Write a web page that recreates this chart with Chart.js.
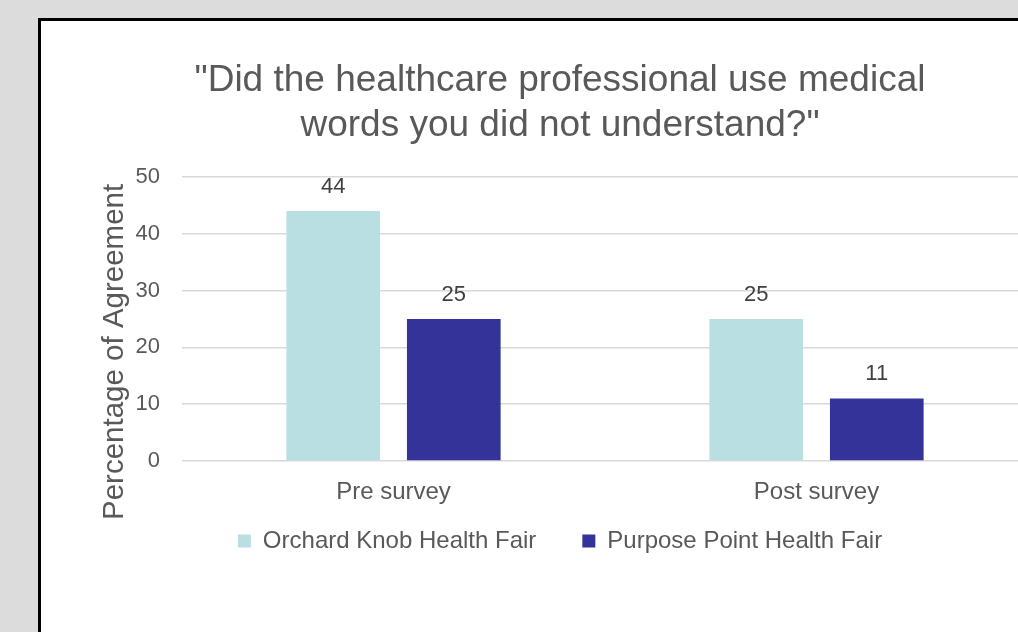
<!DOCTYPE html>
<html>
<head>
<meta charset="utf-8">
<script src="https://cdn.jsdelivr.net/npm/chart.js@4.4.1/dist/chart.umd.min.js"></script>
<style>
  html, body { margin:0; padding:0; background:#dcdcdc; overflow:hidden; }
  #box {
    position:absolute; left:38px; top:18px;
    width:1044px; height:614px;
    background:#fff;
    border-left:3px solid #000; border-top:3px solid #000;
  }
  #chart { display:block; }
</style>
</head>
<body>
<div id="box"><canvas id="chart" width="1038" height="611"></canvas></div>
<script>
// data
const categories = ["Pre survey", "Post survey"];
const seriesNames = ["Orchard Knob Health Fair", "Purpose Point Health Fair"];
const orchardKnob = [44, 25];
const purposePoint = [25, 11];
const yTicks = [0, 10, 20, 30, 40, 50];
const yTitle = "Percentage of Agreement";

const textGrey = "#595959";
const font = "'Liberation Sans', Arial, sans-serif";

// value labels above bars
const barLabels = {
  id: "barLabels",
  afterDatasetsDraw(chart) {
    const ctx = chart.ctx;
    ctx.save();
    ctx.font = `22px ${font}`;
    ctx.fillStyle = "#404040";
    ctx.textAlign = "center";
    ctx.textBaseline = "alphabetic";
    chart.data.datasets.forEach((ds, i) => {
      chart.getDatasetMeta(i).data.forEach((bar, j) => {
        ctx.fillText(String(ds.data[j]), bar.x, bar.y - 18);
      });
    });
    ctx.restore();
  }
};

// y title sits a bit lower than the plot middle in the original
const yTitlePlugin = {
  id: "yTitlePlugin",
  afterDraw(chart) {
    const ctx = chart.ctx;
    const a = chart.chartArea;
    ctx.save();
    ctx.translate(74, (a.top + a.bottom) / 2 + 33);
    ctx.rotate(-Math.PI / 2);
    ctx.font = `29.5px ${font}`;
    ctx.fillStyle = textGrey;
    ctx.textAlign = "center";
    ctx.textBaseline = "middle";
    ctx.fillText(yTitle, 0, 0);
    ctx.restore();
  }
};

// pull legend up closer to the category labels
const legendNudge = {
  id: "legendNudge",
  afterLayout(chart) {
    const l = chart.legend;
    l.top -= 23;
    l.bottom -= 23;
  }
};

new Chart(document.getElementById("chart"), {
  type: "bar",
  data: {
    labels: categories,
    datasets: [
      { label: seriesNames[0], data: orchardKnob, backgroundColor: "#b9dfe3" },
      { label: seriesNames[1], data: purposePoint, backgroundColor: "#333399" }
    ]
  },
  options: {
    responsive: false,
    animation: false,
    events: [],
    categoryPercentage: 0.57,
    barPercentage: 0.777,
    layout: { padding: { left: 0, right: 0, top: 0, bottom: 46 } },
    scales: {
      x: {
        grid: { display: false },
        border: { display: false },
        ticks: { color: textGrey, font: { family: font, size: 24 }, padding: 9 },
        afterFit: s => { s.height = 45; }
      },
      y: {
        min: 0, max: 50,
        afterBuildTicks: s => { s.ticks = yTicks.map(v => ({ value: v })); },
        grid: { color: "#d9d9d9", lineWidth: 1.5, drawTicks: false },
        border: { display: false },
        ticks: { color: textGrey, font: { family: font, size: 22 }, padding: 22 },
        afterFit: s => { s.width = 141; }
      },
      // empty right-hand space so the plot ends where the original does
      yRight: {
        position: "right",
        grid: { display: false },
        border: { display: false },
        ticks: { display: false },
        afterFit: s => { s.width = 51; }
      }
    },
    plugins: {
      tooltip: { enabled: false },
      title: {
        display: true,
        text: ['"Did the healthcare professional use medical', 'words you did not understand?"'],
        color: textGrey,
        font: { family: font, size: 37, weight: "normal", lineHeight: 1.2 },
        padding: { top: 38, bottom: 29 }
      },
      legend: {
        position: "bottom",
        labels: {
          color: textGrey,
          font: { family: font, size: 24 },
          boxWidth: 13, boxHeight: 13,
          padding: 46
        }
      }
    }
  },
  plugins: [barLabels, yTitlePlugin, legendNudge]
});
</script>
</body>
</html>
